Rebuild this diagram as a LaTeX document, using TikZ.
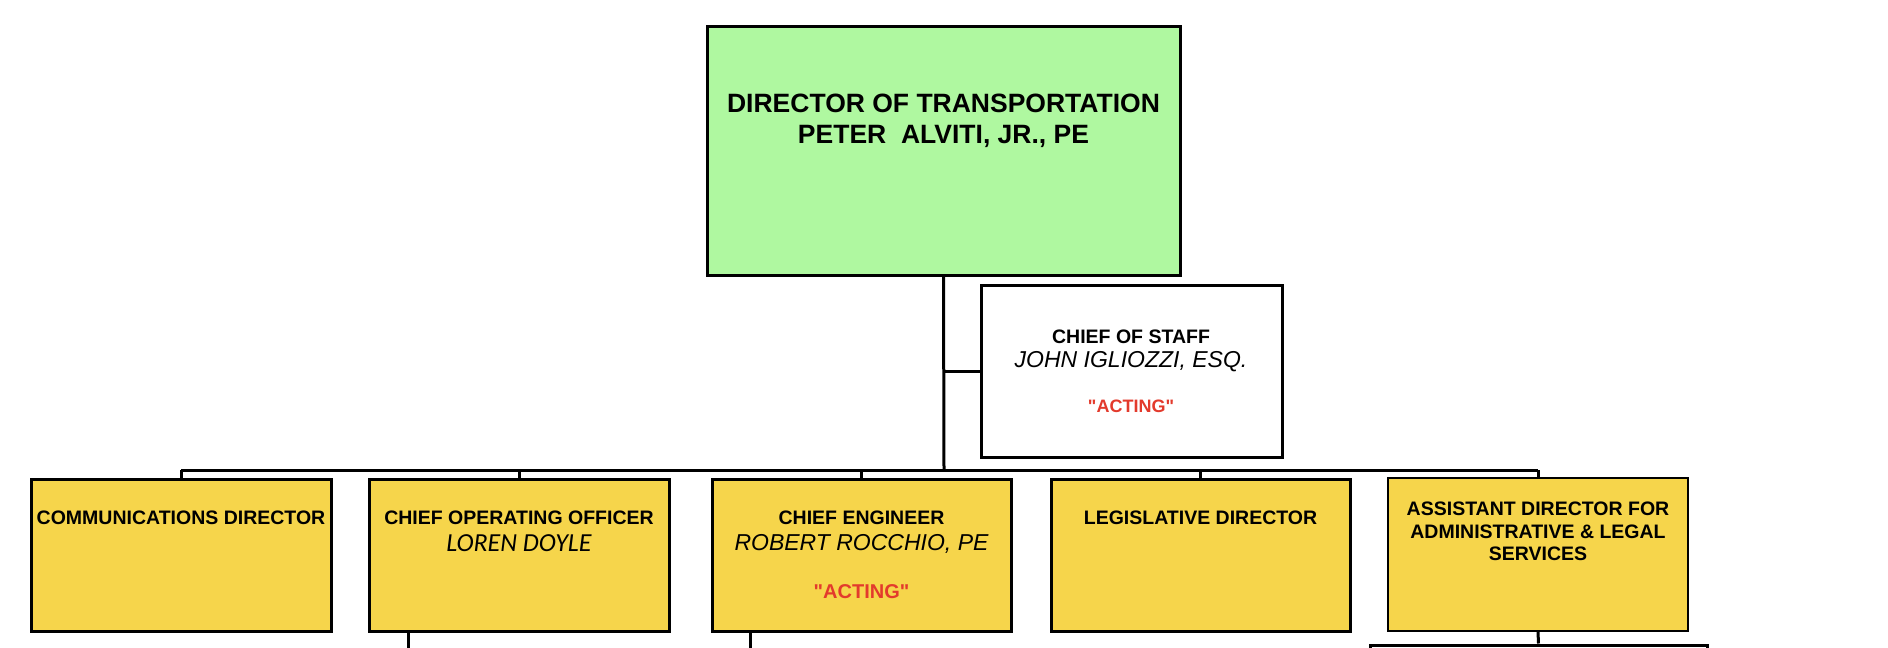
\documentclass[tikz,border=0pt]{standalone}
\usepackage{fontspec}
\setmainfont{Liberation Sans}
\newfontfamily\calfont{Carlito}
\definecolor{topgreen}{HTML}{AFF8A0}
\definecolor{boxyellow}{HTML}{F6D54B}
\definecolor{actred}{HTML}{E33A2C}
\tikzset{
  orgbox/.style={draw=black, line width=3pt, inner sep=0pt, minimum height=152pt},
  yellowbox/.style={orgbox, fill=boxyellow, minimum width=300pt},
  conn/.style={draw=black, line width=3pt},
  ttl/.style={inner sep=0pt, align=center, font=\fontsize{19.5}{22.5}\selectfont\bfseries},
  nm/.style={inner sep=0pt, align=center, font=\fontsize{23}{27}\selectfont\itshape},
  act/.style={inner sep=0pt, text=actred, font=\fontsize{18}{21}\selectfont\bfseries}
}
\begin{document}
\begin{tikzpicture}[x=1pt,y=-1pt]
\useasboundingbox (0,0) rectangle (1888,648);
\clip (0,0) rectangle (1888,648);
\fill[white] (0,0) rectangle (1888,648);
% boxes
\node[orgbox, fill=topgreen, minimum width=473pt, minimum height=249pt] (dir) at (943.5,150.5) {};
\node[orgbox, fill=white, minimum width=301pt, minimum height=172pt] (cos) at (1131.5,371) {};
\node[yellowbox] (comm) at (181,555) {};
\node[yellowbox] (coo) at (519,555) {};
\node[yellowbox, minimum width=299pt] (ce) at (861.5,555) {};
\node[yellowbox, minimum width=299pt] (leg) at (1200.5,555) {};
\node[yellowbox, line width=2pt, minimum height=153pt] (ad) at (1538,554.5) {};
\node[orgbox, fill=white, minimum width=337pt, minimum height=70pt] (sub) at (1538.5,680) {};
% connectors
\coordinate (bus) at (944,470);
\coordinate (cooout) at (408,660);
\coordinate (ceout) at (750,660);
\draw[conn] (dir.south) -- (bus);
\draw[conn] (dir.south |- cos.west) -- (cos.west);
\draw[conn] (comm.north |- bus) -- (ad.north |- bus);
\draw[conn] (comm.north |- bus) -- (comm.north);
\draw[conn] (coo.north |- bus) -- (coo.north);
\draw[conn] (ce.north |- bus) -- (ce.north);
\draw[conn] (leg.north |- bus) -- (leg.north);
\draw[conn] (ad.north |- bus) -- (ad.north);
\draw[conn] (coo.south -| cooout) -- (cooout);
\draw[conn] (ce.south -| ceout) -- (ceout);
\draw[conn] (ad.south) -- (sub.north);
% texts
\node[inner sep=0pt, align=center, font=\fontsize{26.5}{31}\selectfont\bfseries] (dirT) at (943.5,121) {DIRECTOR OF TRANSPORTATION\\PETER\ \ ALVITI, JR., PE};
\node[ttl] (cosT) at (1131,337) {CHIEF OF STAFF};
\node[nm] (cosN) at (1131,362) {JOHN IGLIOZZI, ESQ.};
\node[act] (cosA) at (1131,406) {\textquotedbl ACTING\textquotedbl};
\node[ttl] (commT) at (181,518) {COMMUNICATIONS DIRECTOR};
\node[ttl] (cooT) at (519,518) {CHIEF OPERATING OFFICER};
\node[inner sep=0pt, font=\fontsize{26}{30}\selectfont\calfont\itshape] (cooN) at (519,543) {LOREN DOYLE};
\node[ttl] (ceT) at (861.5,518) {CHIEF ENGINEER};
\node[nm] (ceN) at (861.5,544) {ROBERT ROCCHIO, PE};
\node[act, font=\fontsize{20}{24}\selectfont\bfseries] (ceA) at (861.5,592) {\textquotedbl ACTING\textquotedbl};
\node[ttl] (legT) at (1200.5,518) {LEGISLATIVE DIRECTOR};
\node[ttl] (adT) at (1538,531.5) {ASSISTANT DIRECTOR FOR\\ADMINISTRATIVE \& LEGAL\\SERVICES};
\end{tikzpicture}
\end{document}
